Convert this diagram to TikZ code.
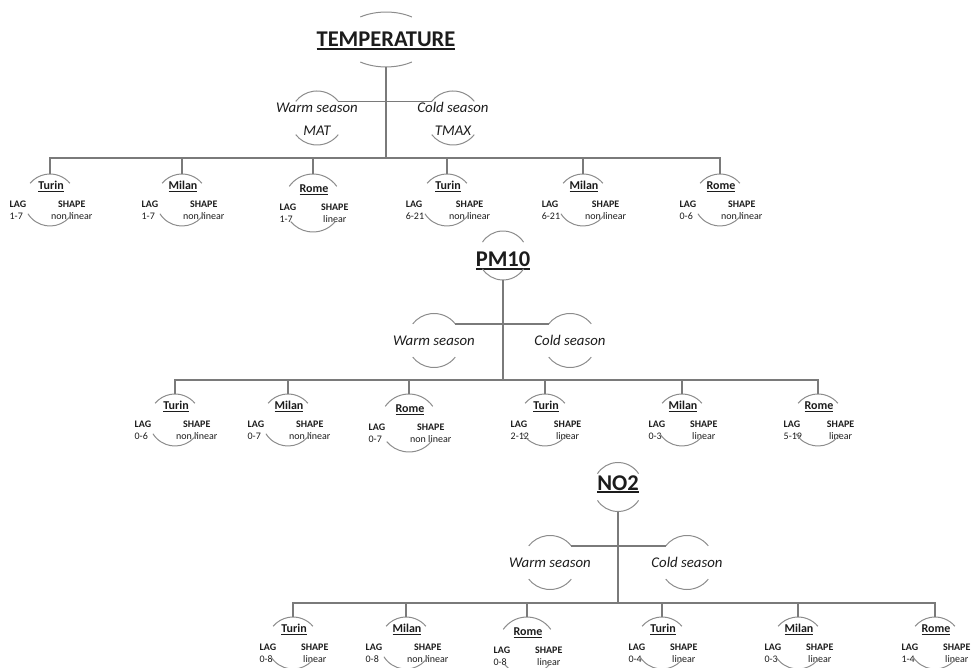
\documentclass[tikz,border=0pt]{standalone}
\usepackage{fontspec}
\setmainfont{Carlito}
\usepackage{tikz}
\usetikzlibrary{shapes}
\definecolor{ink}{RGB}{28,28,28}
\definecolor{wire}{RGB}{122,122,122}
\definecolor{rim}{RGB}{140,140,140}
\newcommand{\uln}[2][1pt]{\vtop{\hbox{#2}\kern1.3pt\hrule height #1}}
\newcommand{\leaftext}[3]{\begin{tabular}{@{}l@{\hspace{25pt}}c@{}}
\multicolumn{2}{c}{\fontsize{12}{14}\selectfont\bfseries\uln[0.9pt]{#1}}\\[6.5pt]
\textbf{LAG} & \textbf{SHAPE}\\
#2 & #3
\end{tabular}}
\tikzstyle{oval} = [ellipse, inner sep=0pt, outer sep=0pt, minimum width=90pt, minimum height=55pt]
\tikzstyle{bubble} = [circle, inner sep=0pt, outer sep=0pt, minimum size=49pt]
\tikzstyle{season} = [circle, inner sep=0pt, outer sep=0pt, minimum size=54pt]
\tikzstyle{leaf} = [circle, inner sep=0pt, outer sep=0pt, minimum size=52pt]
\tikzstyle{bigleaf} = [leaf, minimum size=58pt]
\tikzstyle{bar} = [draw=wire, line width=1.6pt]
\tikzstyle{arcs} = [draw=rim, line width=1pt]
\tikzstyle{elbow} = [to path={-| (\tikztotarget)}]
\tikzstyle{roottext} = [font=\fontsize{22.5}{27}\selectfont\bfseries, text=ink, anchor=base, inner sep=0pt]
\tikzstyle{seasontext} = [font=\fontsize{14.8}{18}\selectfont\itshape, text=ink, anchor=base, inner sep=0pt]
\tikzstyle{info} = [font=\fontsize{10}{11.5}\selectfont, text=ink, inner sep=0pt, xshift=1pt, yshift=-2.2pt]

\begin{document}
\begin{tikzpicture}[x=1pt,y=1pt]
\useasboundingbox (0,0) rectangle (971,667);

\node[oval] (t) at (386,627.5) {};
\node[roottext] (tl) at (386,620) {\uln[2pt]{TEMPERATURE}};
\node[season] (tw) at (317,549) {};
\node[season] (tc) at (453,549) {};
\node[seasontext] (twl) at (317,554) {Warm season};
\node[seasontext] (twv) at (317,531) {MAT};
\node[seasontext] (tcl) at (453,554) {Cold season};
\node[seasontext] (tcv) at (453,531) {TMAX};
\coordinate (tb) at (386,509);
\node[leaf] (t1) at (50,467) {};
\node[leaf] (t2) at (182,467) {};
\node[bigleaf] (t3) at (313,464) {};
\node[leaf] (t4) at (447,467) {};
\node[leaf] (t5) at (583,467) {};
\node[leaf] (t6) at (720,467) {};
\node[info] (t1i) at (t1.center) {\leaftext{Turin}{1-7}{non linear}};
\node[info] (t2i) at (t2.center) {\leaftext{Milan}{1-7}{non linear}};
\node[info] (t3i) at (t3.center) {\leaftext{Rome}{1-7}{linear}};
\node[info] (t4i) at (t4.center) {\leaftext{Turin}{6-21}{non linear}};
\node[info] (t5i) at (t5.center) {\leaftext{Milan}{6-21}{non linear}};
\node[info] (t6i) at (t6.center) {\leaftext{Rome}{0-6}{non linear}};

\node[bubble] (p) at (503,411.5) {};
\node[roottext] (pl) at (503,400) {\uln[2pt]{PM10}};
\node[season] (pw) at (434,326.5) {};
\node[season] (pc) at (570,326.5) {};
\node[seasontext] (pwl) at (434,321) {Warm season};
\node[seasontext] (pcl) at (570,321) {Cold season};
\coordinate (pb) at (503,287);
\node[leaf] (p1) at (175,247) {};
\node[leaf] (p2) at (288,247) {};
\node[bigleaf] (p3) at (409,244) {};
\node[leaf] (p4) at (545,247) {};
\node[leaf] (p5) at (682,247) {};
\node[leaf] (p6) at (818,247) {};
\node[info] (p1i) at (p1.center) {\leaftext{Turin}{0-6}{non linear}};
\node[info] (p2i) at (p2.center) {\leaftext{Milan}{0-7}{non linear}};
\node[info] (p3i) at (p3.center) {\leaftext{Rome}{0-7}{non linear}};
\node[info] (p4i) at (p4.center) {\leaftext{Turin}{2-12}{linear}};
\node[info] (p5i) at (p5.center) {\leaftext{Milan}{0-3}{linear}};
\node[info] (p6i) at (p6.center) {\leaftext{Rome}{5-19}{linear}};

\node[bubble] (n) at (618,180) {};
\node[roottext] (nl) at (618,177) {\uln[2pt]{NO2}};
\node[season] (nw) at (550,104.5) {};
\node[season] (nc) at (687,104.5) {};
\node[seasontext] (nwl) at (550,100) {Warm season};
\node[seasontext] (ncl) at (687,100) {Cold season};
\coordinate (nb) at (618,64);
\node[leaf] (n1) at (293,24) {};
\node[leaf] (n2) at (406,24) {};
\node[bigleaf] (n3) at (527,21) {};
\node[leaf] (n4) at (662,24) {};
\node[leaf] (n5) at (798,24) {};
\node[leaf] (n6) at (935,24) {};
\node[info] (n1i) at (n1.center) {\leaftext{Turin}{0-8}{linear}};
\node[info] (n2i) at (n2.center) {\leaftext{Milan}{0-8}{non linear}};
\node[info] (n3i) at (n3.center) {\leaftext{Rome}{0-8}{linear}};
\node[info] (n4i) at (n4.center) {\leaftext{Turin}{0-4}{linear}};
\node[info] (n5i) at (n5.center) {\leaftext{Milan}{0-3}{linear}};
\node[info] (n6i) at (n6.center) {\leaftext{Rome}{1-4}{linear}};

\draw[arcs] (t.41.1) arc[start angle=55, end angle=125, x radius=45pt, y radius=27.5pt]
 (t.-41.1) arc[start angle=-55, end angle=-125, x radius=45pt, y radius=27.5pt];
\draw[arcs] (p.33) arc (33:147:24.5pt) (p.-33) arc (-33:-147:24.5pt);
\draw[arcs] (n.33) arc (33:147:24.5pt) (n.-33) arc (-33:-147:24.5pt);
\draw[arcs] (tw.38) arc (38:142:27pt) (tw.-38) arc (-38:-142:27pt);
\draw[arcs] (tc.38) arc (38:142:27pt) (tc.-38) arc (-38:-142:27pt);
\draw[arcs] (pw.38) arc (38:142:27pt) (pw.-38) arc (-38:-142:27pt);
\draw[arcs] (pc.38) arc (38:142:27pt) (pc.-38) arc (-38:-142:27pt);
\draw[arcs] (nw.38) arc (38:142:27pt) (nw.-38) arc (-38:-142:27pt);
\draw[arcs] (nc.38) arc (38:142:27pt) (nc.-38) arc (-38:-142:27pt);
\draw[arcs] (t1.40) arc (40:140:26pt) (t1.-32) arc (-32:-148:26pt);
\draw[arcs] (t2.40) arc (40:140:26pt) (t2.-32) arc (-32:-148:26pt);
\draw[arcs] (t3.35) arc (35:145:29pt) (t3.-40) arc (-40:-140:29pt);
\draw[arcs] (t4.40) arc (40:140:26pt) (t4.-32) arc (-32:-148:26pt);
\draw[arcs] (t5.40) arc (40:140:26pt) (t5.-32) arc (-32:-148:26pt);
\draw[arcs] (t6.40) arc (40:140:26pt) (t6.-32) arc (-32:-148:26pt);
\draw[arcs] (p1.40) arc (40:140:26pt) (p1.-32) arc (-32:-148:26pt);
\draw[arcs] (p2.40) arc (40:140:26pt) (p2.-32) arc (-32:-148:26pt);
\draw[arcs] (p3.35) arc (35:145:29pt) (p3.-40) arc (-40:-140:29pt);
\draw[arcs] (p4.40) arc (40:140:26pt) (p4.-32) arc (-32:-148:26pt);
\draw[arcs] (p5.40) arc (40:140:26pt) (p5.-32) arc (-32:-148:26pt);
\draw[arcs] (p6.40) arc (40:140:26pt) (p6.-32) arc (-32:-148:26pt);
\draw[arcs] (n1.40) arc (40:140:26pt) (n1.-32) arc (-32:-148:26pt);
\draw[arcs] (n2.40) arc (40:140:26pt) (n2.-32) arc (-32:-148:26pt);
\draw[arcs] (n3.35) arc (35:145:29pt) (n3.-40) arc (-40:-140:29pt);
\draw[arcs] (n4.40) arc (40:140:26pt) (n4.-32) arc (-32:-148:26pt);
\draw[arcs] (n5.40) arc (40:140:26pt) (n5.-32) arc (-32:-148:26pt);
\draw[arcs] (n6.40) arc (40:140:26pt) (n6.-32) arc (-32:-148:26pt);

\draw[bar] (t.south) -- (tb);
\draw[bar] (tw.38) -- (tc.142);
\path[bar] (tb) edge[elbow] (t1.north) edge[elbow] (t2.north) edge[elbow] (t3.north)
 edge[elbow] (t4.north) edge[elbow] (t5.north) edge[elbow] (t6.north);
\draw[bar] (p.south) -- (pb);
\draw[bar] (pw.38) -- (pc.142);
\path[bar] (pb) edge[elbow] (p1.north) edge[elbow] (p2.north) edge[elbow] (p3.north)
 edge[elbow] (p4.north) edge[elbow] (p5.north) edge[elbow] (p6.north);
\draw[bar] (n.south) -- (nb);
\draw[bar] (nw.38) -- (nc.142);
\path[bar] (nb) edge[elbow] (n1.north) edge[elbow] (n2.north) edge[elbow] (n3.north)
 edge[elbow] (n4.north) edge[elbow] (n5.north) edge[elbow] (n6.north);
\end{tikzpicture}
\end{document}
